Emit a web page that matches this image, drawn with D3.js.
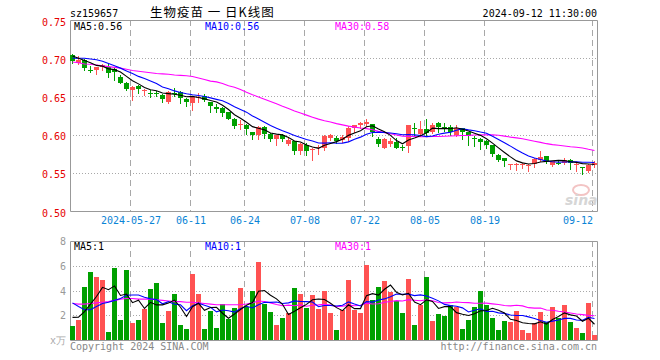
<!DOCTYPE html>
<html>
<head>
<meta charset="utf-8">
<script src="https://cdn.jsdelivr.net/npm/d3@7"></script>
<style>
  body { margin: 0; background: #fff; }
  text { font-family: "DejaVu Sans Mono", monospace; font-size: 10px; }
</style>
</head>
<body>
<script>
/**
 * Daily K-line chart, 159657 (生物疫苗), 2024-05-13 .. 2024-09-12
 */

const WIDTH = 660;
const HEIGHT = 360;

const LEFT = 70;            // left border of both panels
const RIGHT = 597;          // right border
const PRICE_TOP = 20;
const PRICE_BOTTOM = 211;
const VOL_TOP = 241;
const VOL_BOTTOM = 340;

const RED = "#ff5252";
const GREEN = "#00a000";
const GRID = "#a8a8a8";

/**
 * Data
 */

const dates = [
    "2024-05-13","2024-05-14","2024-05-15","2024-05-16","2024-05-17",
    "2024-05-20","2024-05-21","2024-05-22","2024-05-23","2024-05-24",
    "2024-05-27","2024-05-28","2024-05-29","2024-05-30","2024-05-31",
    "2024-06-03","2024-06-04","2024-06-05","2024-06-06","2024-06-07",
    "2024-06-11","2024-06-12","2024-06-13","2024-06-14",
    "2024-06-17","2024-06-18","2024-06-19","2024-06-20","2024-06-21",
    "2024-06-24","2024-06-25","2024-06-26","2024-06-27","2024-06-28",
    "2024-07-01","2024-07-02","2024-07-03","2024-07-04","2024-07-05",
    "2024-07-08","2024-07-09","2024-07-10","2024-07-11","2024-07-12",
    "2024-07-15","2024-07-16","2024-07-17","2024-07-18","2024-07-19",
    "2024-07-22","2024-07-23","2024-07-24","2024-07-25","2024-07-26",
    "2024-07-29","2024-07-30","2024-07-31","2024-08-01","2024-08-02",
    "2024-08-05","2024-08-06","2024-08-07","2024-08-08","2024-08-09",
    "2024-08-12","2024-08-13","2024-08-14","2024-08-15","2024-08-16",
    "2024-08-19","2024-08-20","2024-08-21","2024-08-22","2024-08-23",
    "2024-08-26","2024-08-27","2024-08-28","2024-08-29","2024-08-30",
    "2024-09-02","2024-09-03","2024-09-04","2024-09-05","2024-09-06",
    "2024-09-09","2024-09-10","2024-09-11","2024-09-12"
];

const open = [
    0.704,0.694,0.698,0.685,0.685,0.688,0.689,0.686,0.676,0.668,
    0.658,0.664,0.657,0.655,0.654,0.652,0.643,0.655,0.656,0.647,
    0.642,0.648,0.651,0.643,0.636,0.635,0.629,0.621,0.613,0.613,
    0.603,0.599,0.610,0.601,0.594,0.599,0.588,0.591,0.578,0.587,
    0.580,0.583,0.583,0.595,0.596,0.593,0.596,0.609,0.612,0.614,
    0.614,0.594,0.583,0.588,0.590,0.584,0.585,0.608,0.601,0.607,
    0.604,0.615,0.610,0.610,0.600,0.608,0.603,0.596,0.594,0.591,
    0.587,0.573,0.569,0.561,0.560,0.560,0.559,0.561,0.567,0.572,
    0.560,0.563,0.563,0.567,0.560,0.558,0.552,0.560
];
const high = [
    0.706,0.703,0.699,0.690,0.689,0.693,0.692,0.688,0.678,0.669,
    0.663,0.665,0.660,0.659,0.657,0.653,0.657,0.661,0.657,0.648,
    0.650,0.655,0.653,0.643,0.640,0.636,0.629,0.622,0.619,0.614,
    0.604,0.611,0.611,0.602,0.599,0.601,0.595,0.592,0.589,0.589,
    0.583,0.587,0.599,0.601,0.598,0.600,0.611,0.613,0.617,0.621,
    0.614,0.597,0.596,0.596,0.595,0.586,0.613,0.615,0.618,0.620,
    0.615,0.616,0.615,0.613,0.613,0.609,0.604,0.598,0.596,0.593,
    0.587,0.574,0.569,0.561,0.563,0.563,0.562,0.569,0.578,0.572,
    0.566,0.566,0.569,0.568,0.563,0.558,0.561,0.566
];
const low = [
    0.694,0.693,0.685,0.682,0.679,0.684,0.676,0.672,0.667,0.659,
    0.645,0.655,0.652,0.649,0.650,0.643,0.642,0.651,0.641,0.637,
    0.632,0.643,0.644,0.629,0.629,0.624,0.620,0.608,0.607,0.601,
    0.594,0.594,0.596,0.591,0.586,0.591,0.587,0.574,0.574,0.573,
    0.567,0.574,0.580,0.593,0.589,0.590,0.592,0.603,0.609,0.611,
    0.598,0.585,0.582,0.585,0.582,0.580,0.577,0.599,0.598,0.600,
    0.602,0.604,0.605,0.600,0.598,0.594,0.587,0.585,0.581,0.582,
    0.572,0.565,0.559,0.555,0.554,0.556,0.553,0.557,0.565,0.563,
    0.559,0.561,0.562,0.555,0.553,0.548,0.551,0.558
];
const close = [
    0.696,0.698,0.687,0.684,0.688,0.691,0.680,0.682,0.668,0.660,
    0.662,0.660,0.658,0.654,0.653,0.647,0.656,0.654,0.648,0.643,
    0.649,0.649,0.645,0.637,0.633,0.628,0.621,0.611,0.614,0.607,
    0.599,0.610,0.601,0.594,0.599,0.594,0.593,0.578,0.588,0.579,
    0.581,0.584,0.598,0.600,0.591,0.597,0.609,0.613,0.615,0.617,
    0.604,0.588,0.594,0.592,0.583,0.583,0.613,0.607,0.607,0.602,
    0.613,0.610,0.609,0.604,0.609,0.603,0.598,0.595,0.590,0.587,
    0.574,0.567,0.565,0.561,0.561,0.561,0.560,0.568,0.571,0.565,
    0.565,0.562,0.567,0.563,0.561,0.557,0.560,0.563
];

// volume, 万
const volume = [
    1.13,1.61,4.27,5.48,5.08,4.84,0.65,5.81,1.61,5.65,
    1.37,1.61,2.50,4.11,4.60,1.37,2.34,3.71,1.21,0.89,
    5.32,3.71,0.89,2.34,0.97,2.90,1.69,2.58,4.19,2.69,
    3.95,6.29,2.90,2.26,1.21,1.77,2.15,4.19,3.71,2.58,
    3.63,2.48,3.95,2.20,0.81,2.42,4.84,2.42,2.20,6.05,
    3.23,4.27,4.76,3.87,3.15,2.18,4.92,1.21,2.82,5.08,
    1.53,2.10,1.94,2.82,2.66,0.89,1.61,2.66,3.95,2.82,
    1.77,0.81,1.53,1.45,2.34,0.81,0.56,1.37,2.26,1.45,
    2.66,1.77,2.82,1.45,0.97,0.56,2.98,0.40
];

// moving-average values at the left edge, before a full window exists
const priceMa5Lead = [0.703, 0.700, 0.697, 0.694];
const priceMa10Lead = [0.700, 0.700, 0.700, 0.699, 0.698, 0.696, 0.693, 0.690, 0.687];
const priceMa30Lead = [
    0.695,0.694,0.6925,0.692,0.691,0.690,0.689,0.688,0.687,0.6855,
    0.684,0.683,0.682,0.681,0.680,0.6795,0.679,0.678,0.6775,0.677,
    0.676,0.674,0.672,0.670,0.669,0.667,0.664,0.662,0.659
];
const volMa5Lead = [1.83, 1.85, 2.30, 2.90];
const volMa10Lead = [3.00, 2.70, 2.45, 2.45, 2.70, 2.95, 3.05, 3.20, 3.35];
const volMa30Lead = [
    2.95,2.90,2.90,2.95,3.00,3.05,3.10,3.20,3.30,3.35,
    3.35,3.30,3.30,3.30,3.25,3.20,3.15,3.10,3.10,3.05,
    3.05,3.00,2.95,2.90,2.85,2.85,2.85,2.85,2.85
];

const priceTicks = [0.50, 0.55, 0.60, 0.65, 0.70, 0.75];
const volTicks = [2, 4, 6, 8];
const dateTicks = ["2024-05-27","2024-06-11","2024-06-24","2024-07-08",
                   "2024-07-22","2024-08-05","2024-08-19","2024-09-12"];

/**
 * Helpers
 */

function movingAverage(values, n, lead) {
    return values.map((v, i) =>
        i >= n - 1 ? d3.mean(values.slice(i - n + 1, i + 1)) : lead[i]);
}

const N = dates.length;

const x = d3.scaleBand()
    .domain(d3.range(N))
    .range([LEFT, LEFT + 6 * N])
    .paddingInner(1 / 6)
    .paddingOuter(1 / 12)
    .align(0);

const yPrice = d3.scaleLinear().domain([0.50, 0.75]).range([PRICE_BOTTOM, PRICE_TOP]);
const yVol = d3.scaleLinear().domain([0, 8]).range([VOL_BOTTOM, VOL_TOP]);

const isUp = i => close[i] >= open[i];
const crisp = v => Math.round(v) + 0.5;

const svg = d3.select("body")
    .append("svg")
    .attr("width", WIDTH)
    .attr("height", HEIGHT);

svg.append("rect").attr("width", WIDTH).attr("height", HEIGHT).attr("fill", "#fff");

/**
 * Grids and frames
 */

function drawPanelGrid(top, bottom, y, ticks) {
    const g = svg.append("g");
    // horizontal dotted lines
    g.selectAll("line.h")
        .data(ticks.filter(t => Math.abs(y(t) - top) > 2 && Math.abs(y(t) - bottom) > 2))
        .join("line")
        .attr("x1", LEFT).attr("x2", RIGHT)
        .attr("y1", d => crisp(y(d))).attr("y2", d => crisp(y(d)))
        .attr("stroke", GRID)
        .attr("stroke-dasharray", "1,2");
    // vertical dashed lines at the date ticks
    g.selectAll("line.v")
        .data(dateTicks.map(d => dates.indexOf(d)))
        .join("line")
        .attr("x1", d => x(d) + 0.5).attr("x2", d => x(d) + 0.5)
        .attr("y1", top).attr("y2", bottom)
        .attr("stroke", GRID)
        .attr("stroke-dasharray", "6,4");
    // frame: top, left, right, bottom
    g.append("path")
        .attr("d", `M${LEFT + 0.5},${bottom + 0.5}V${top + 0.5}H${RIGHT + 0.5}V${bottom + 0.5}H${LEFT + 0.5}`)
        .attr("fill", "none")
        .attr("stroke", "#999");
}

drawPanelGrid(PRICE_TOP, PRICE_BOTTOM, yPrice, priceTicks);
drawPanelGrid(VOL_TOP, VOL_BOTTOM, yVol, [0].concat(volTicks));

// sina watermark
svg.append("ellipse")
    .attr("cx", 581).attr("cy", 190).attr("rx", 8).attr("ry", 5)
    .attr("fill", "none").attr("stroke", "#f3c4c4").attr("stroke-width", 2);
svg.append("text")
    .attr("x", 565).attr("y", 205)
    .style("font-family", "DejaVu Sans")
    .style("font-size", "14px")
    .style("font-style", "italic")
    .style("font-weight", "bold")
    .attr("fill", "#d6d6d6")
    .text("sina");

/**
 * Axes
 */

const priceAxis = svg.append("g")
    .attr("transform", `translate(${LEFT - 4},0)`)
    .call(d3.axisLeft(yPrice).tickValues(priceTicks).tickSize(0).tickPadding(0)
        .tickFormat(d3.format(".2f")));
priceAxis.select(".domain").remove();
priceAxis.selectAll("text")
    .attr("fill", "#e60000")
    .attr("dy", "0.5em")
    .style("font-size", "10px")
    .style("font-family", "DejaVu Sans Mono");

const volAxis = svg.append("g")
    .attr("transform", `translate(${LEFT - 4},0)`)
    .call(d3.axisLeft(yVol).tickValues(volTicks).tickSize(0).tickPadding(0));
volAxis.select(".domain").remove();
volAxis.selectAll("text")
    .attr("fill", "#999")
    .attr("dy", "0.35em")
    .style("font-size", "10px")
    .style("font-family", "DejaVu Sans Mono");

const dateAxis = svg.append("g")
    .attr("transform", `translate(0,${PRICE_BOTTOM})`)
    .call(d3.axisBottom(d3.scaleLinear().domain([0, N]).range([LEFT + 0.5, LEFT + 0.5 + 6 * N]))
        .tickValues(dateTicks.map(d => dates.indexOf(d)))
        .tickSize(0).tickPadding(6)
        .tickFormat((d, k) => k === 0 ? dates[d] : dates[d].slice(5)));
dateAxis.select(".domain").remove();
dateAxis.selectAll("text")
    .attr("fill", "#0a84d6")
    .attr("dy", "0.71em")
    .style("font-size", "10px")
    .style("font-family", "DejaVu Sans Mono")
    .attr("text-anchor", (d, k) => k === dateTicks.length - 1 ? "end" : "middle");

svg.append("text")
    .attr("x", 50).attr("y", 344)
    .attr("fill", "#aaa")
    .style("font-size", "10px")
    .text("x万");

/**
 * Candles
 */

const candles = svg.append("g");

candles.selectAll("line")
    .data(d3.range(N))
    .join("line")
    .attr("x1", i => x(i) + 2.5).attr("x2", i => x(i) + 2.5)
    .attr("y1", i => Math.round(yPrice(high[i])))
    .attr("y2", i => Math.round(yPrice(low[i])) + 1)
    .attr("stroke", i => isUp(i) ? RED : GREEN);

candles.selectAll("rect")
    .data(d3.range(N))
    .join("rect")
    .attr("x", i => x(i))
    .attr("y", i => Math.round(yPrice(Math.max(open[i], close[i]))))
    .attr("width", x.bandwidth())
    .attr("height", i => Math.max(1,
        Math.round(yPrice(Math.min(open[i], close[i]))) - Math.round(yPrice(Math.max(open[i], close[i])))))
    .attr("fill", i => isUp(i) ? RED : GREEN);

/**
 * Volume bars
 */

svg.append("g")
    .selectAll("rect")
    .data(d3.range(N))
    .join("rect")
    .attr("x", i => x(i))
    .attr("y", i => Math.round(yVol(volume[i])))
    .attr("width", x.bandwidth())
    .attr("height", i => VOL_BOTTOM - Math.round(yVol(volume[i])))
    .attr("fill", i => isUp(i) ? RED : GREEN);

/**
 * Moving averages
 */

const priceMa = [
    { values: movingAverage(close, 5, priceMa5Lead), color: "#000" },
    { values: movingAverage(close, 10, priceMa10Lead), color: "#0000ff" },
    { values: movingAverage(close, 30, priceMa30Lead), color: "#ff00ff" }
];
const volMa = [
    { values: movingAverage(volume, 5, volMa5Lead), color: "#000" },
    { values: movingAverage(volume, 10, volMa10Lead), color: "#0000ff" },
    { values: movingAverage(volume, 30, volMa30Lead), color: "#ff00ff" }
];

function drawLines(series, y) {
    const line = d3.line()
        .x((v, i) => x(i) + 2.5)
        .y(v => y(v));
    svg.append("g")
        .selectAll("path")
        .data(series.slice().reverse())
        .join("path")
        .attr("d", s => line(s.values))
        .attr("fill", "none")
        .attr("stroke", s => s.color)
        .attr("stroke-width", 1.1);
}

drawLines(priceMa, yPrice);
drawLines(volMa, yVol);

/**
 * Texts
 */

function label(xPos, yPos, txt, color, anchor) {
    return svg.append("text")
        .attr("x", xPos).attr("y", yPos)
        .attr("fill", color)
        .attr("text-anchor", anchor || "start")
        .text(txt);
}

const last = N - 1;
const fmt2 = d3.format(".2f");

label(LEFT, 17, "sz159657", "#000");
label(150, 17, "生物疫苗 一 日K线图", "#000")
    .style("font-family", "'Noto Sans CJK SC', sans-serif")
    .style("font-size", "12.5px")
    .style("letter-spacing", "1px");
label(RIGHT, 17, "2024-09-12 11:30:00", "#000", "end");

label(74, 30, "MA5:" + fmt2(priceMa[0].values[last]), "#000");
label(205, 30, "MA10:" + fmt2(priceMa[1].values[last]), "#0000ff");
label(335, 30, "MA30:" + fmt2(priceMa[2].values[last]), "#ff00ff");

label(74, 250, "MA5:" + Math.floor(volMa[0].values[last]), "#000");
label(205, 250, "MA10:" + Math.floor(volMa[1].values[last]), "#0000ff");
label(335, 250, "MA30:" + Math.floor(volMa[2].values[last]), "#ff00ff");

label(LEFT, 350, "Copyright 2024 SINA.COM", "#888");
label(RIGHT, 350, "http://finance.sina.com.cn", "#888", "end");
</script>
</body>
</html>
